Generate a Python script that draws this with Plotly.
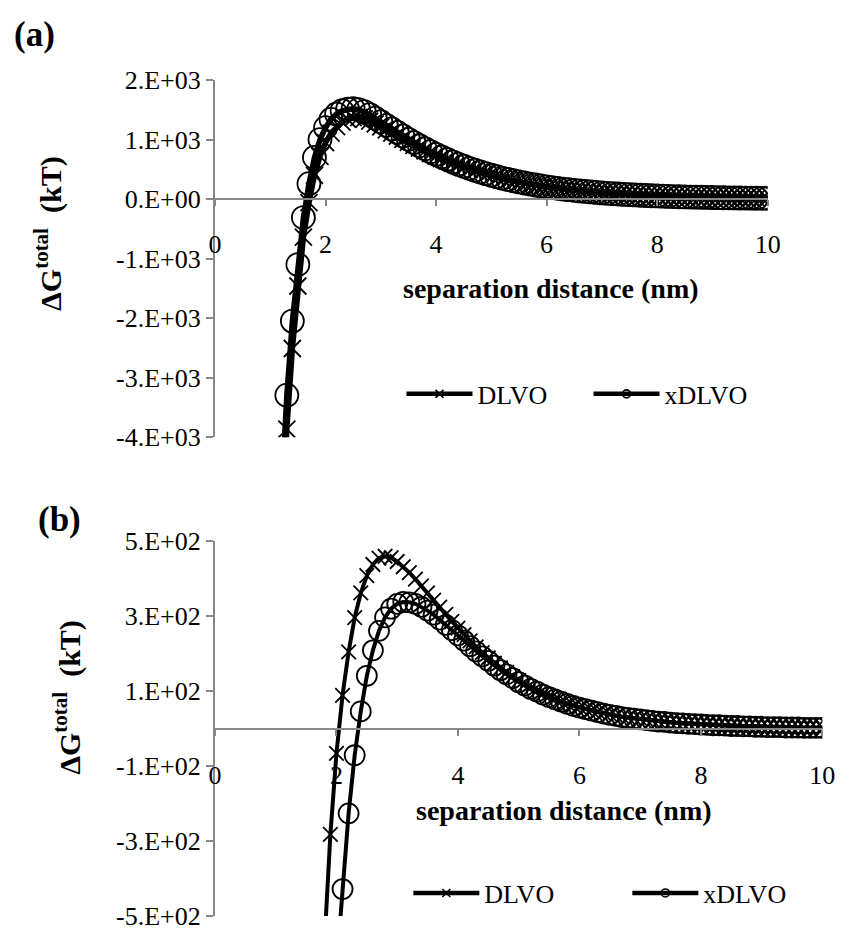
import plotly.graph_objects as go

# ---------------- data ----------------
x_a = [1.2, 1.3, 1.4, 1.5, 1.6, 1.7, 1.8, 1.9, 2.0, 2.1, 2.2, 2.3, 2.4, 2.5, 2.6, 2.7, 2.8, 2.9, 3.0,
       3.1, 3.2, 3.3, 3.4, 3.5, 3.6, 3.7, 3.8, 3.9, 4.0, 4.1, 4.2, 4.3, 4.4, 4.5, 4.6, 4.7, 4.8, 4.9, 5.0,
       5.1, 5.2, 5.3, 5.4, 5.5, 5.6, 5.7, 5.8, 5.9, 6.0, 6.1, 6.2, 6.3, 6.4, 6.5, 6.6, 6.7, 6.8, 6.9, 7.0,
       7.1, 7.2, 7.3, 7.4, 7.5, 7.6, 7.7, 7.8, 7.9, 8.0, 8.1, 8.2, 8.3, 8.4, 8.5, 8.6, 8.7, 8.8, 8.9, 9.0,
       9.1, 9.2, 9.3, 9.4, 9.5, 9.6, 9.7, 9.8, 9.9, 10.0]

dlvo_a = [-5800, -3865, -2510, -1460, -640, -60, 400, 720, 950, 1110, 1220, 1295, 1342, 1370, 1370, 1350,
          1312, 1263, 1213, 1162, 1110, 1057, 1005, 954, 904, 856, 809, 765, 722, 681, 641, 603, 567, 533,
          501, 470, 441, 414, 388, 364, 341, 320, 300, 281, 263, 246, 231, 216, 202, 189, 177, 165, 154,
          144, 135, 126, 118, 110, 103, 96, 90, 84, 78, 73, 68, 64, 60, 56, 52, 49, 45, 42, 39, 37, 34,
          32, 30, 28, 26, 24, 22, 21, 19, 18, 17, 15, 14, 13, 12]

xdlvo_a = [-5000, -3295, -2050, -1100, -310, 260, 700, 1000, 1200, 1340, 1430, 1485, 1512, 1520, 1505,
           1470, 1420, 1360, 1300, 1240, 1180, 1120, 1062, 1005, 950, 897, 846, 798, 752, 708, 666, 626,
           588, 552, 518, 486, 456, 428, 401, 376, 352, 330, 309, 289, 271, 253, 237, 222, 207, 194, 181,
           169, 158, 148, 138, 129, 121, 113, 105, 98, 92, 86, 80, 75, 70, 65, 61, 57, 53, 50, 46, 43, 40,
           38, 35, 33, 31, 29, 27, 25, 23, 22, 20, 19, 18, 16, 15, 14, 13]

x_b_dlvo = [1.8, 1.9, 2.0, 2.1, 2.2, 2.3, 2.4, 2.5, 2.6, 2.7, 2.8, 2.9, 3.0, 3.1, 3.2, 3.3, 3.4, 3.5, 3.6,
            3.7, 3.8, 3.9, 4.0, 4.1, 4.2, 4.3, 4.4, 4.5, 4.6, 4.7, 4.8, 4.9, 5.0, 5.1, 5.2, 5.3, 5.4, 5.5,
            5.6, 5.7, 5.8, 5.9, 6.0, 6.1, 6.2, 6.3, 6.4, 6.5, 6.6, 6.7, 6.8, 6.9, 7.0, 7.1, 7.2, 7.3, 7.4,
            7.5, 7.6, 7.7, 7.8, 7.9, 8.0, 8.1, 8.2, 8.3, 8.4, 8.5, 8.6, 8.7, 8.8, 8.9, 9.0, 9.1, 9.2, 9.3,
            9.4, 9.5, 9.6, 9.7, 9.8, 9.9, 10.0]

dlvo_b = [-580, -282, -66, 89, 205, 296, 362, 408, 438, 455, 460, 456, 446, 432, 416, 399, 381, 362, 343,
          324, 305, 286, 268, 251, 234, 218, 203, 189, 175, 162, 150, 139, 128, 118, 109, 101, 93, 86, 79,
          73, 67, 62, 57, 53, 49, 45, 41, 38, 35, 32, 30, 28, 26, 24, 22, 20, 19, 17, 16, 15, 14, 13, 12,
          11, 10, 10, 9, 8, 8, 7, 7, 6, 6, 5, 5, 5, 4, 4, 4, 3, 3, 3, 3]

x_b_xdlvo = [2.0, 2.1, 2.2, 2.3, 2.4, 2.5, 2.6, 2.7, 2.8, 2.9, 3.0, 3.1, 3.2, 3.3, 3.4, 3.5, 3.6, 3.7, 3.8,
             3.9, 4.0, 4.1, 4.2, 4.3, 4.4, 4.5, 4.6, 4.7, 4.8, 4.9, 5.0, 5.1, 5.2, 5.3, 5.4, 5.5, 5.6, 5.7,
             5.8, 5.9, 6.0, 6.1, 6.2, 6.3, 6.4, 6.5, 6.6, 6.7, 6.8, 6.9, 7.0, 7.1, 7.2, 7.3, 7.4, 7.5, 7.6,
             7.7, 7.8, 7.9, 8.0, 8.1, 8.2, 8.3, 8.4, 8.5, 8.6, 8.7, 8.8, 8.9, 9.0, 9.1, 9.2, 9.3, 9.4, 9.5,
             9.6, 9.7, 9.8, 9.9, 10.0]

xdlvo_b = [-640, -428, -226, -71, 46, 141, 209, 261, 297, 320, 333, 338, 337, 333, 325, 315, 304, 291, 277,
           263, 249, 235, 220, 206, 193, 181, 168, 156, 145, 135, 124, 115, 106, 99, 91, 84, 78, 72, 66,
           61, 56, 52, 48, 44, 40, 37, 34, 31, 29, 27, 25, 23, 21, 19, 18, 16, 15, 14, 13, 12, 11, 10, 9,
           9, 8, 7, 7, 6, 6, 5, 5, 4, 4, 4, 3, 3, 3, 2, 2, 2, 2]

series_names = ["DLVO", "xDLVO"]

x_ticks = [0, 2, 4, 6, 8, 10]
x_ticktext = ["0", "2", "4", "6", "8", "10"]
ya_ticks = [2000, 1000, 0, -1000, -2000, -3000, -4000]
ya_ticktext = ["2.E+03", "1.E+03", "0.E+00", "-1.E+03", "-2.E+03", "-3.E+03", "-4.E+03"]
yb_ticks = [500, 300, 100, -100, -300, -500]
yb_ticktext = ["5.E+02", "3.E+02", "1.E+02", "-1.E+02", "-3.E+02", "-5.E+02"]

x_title = "separation distance (nm)"
y_title = "\u0394G<sup>total</sup>  (kT)"

# ---------------- figure ----------------
W, H = 850, 942
FONT = "Liberation Serif"
GRAY = "#878787"

def py(p):  # pixel from top -> paper fraction
    return 1 - p / H

def px(p):
    return p / W

a_dom_y = [py(436.6), py(68.2)]
b_dom_y = [py(930.7), py(544.0)]
a_dom_x = [px(213), px(779)]
b_dom_x = [px(213), px(835)]
a_range = [-4000, 2000]
b_range = [-500, 500]
a_zero = a_dom_y[0] + (0 - a_range[0]) / (a_range[1] - a_range[0]) * (a_dom_y[1] - a_dom_y[0])
b_zero = b_dom_y[0] + (0 - b_range[0]) / (b_range[1] - b_range[0]) * (b_dom_y[1] - b_dom_y[0])

fig = go.Figure()

def add_series(x, y, name, xa, ya, symbol, msize, lw, legend):
    fig.add_trace(go.Scatter(
        x=x, y=y, name=name, mode="lines+markers", xaxis=xa, yaxis=ya,
        line=dict(color="black", width=lw),
        marker=dict(symbol=symbol, size=msize, color="black",
                    line=dict(color="black", width=1.8)),
        showlegend=False, legend=legend))

add_series(x_a, dlvo_a, series_names[0], "x", "y", "x-thin-open", 17, 5.5, "legend")
add_series(x_a, xdlvo_a, series_names[1], "x", "y", "circle-open", 23, 5.5, "legend")
add_series(x_b_dlvo, dlvo_b, series_names[0], "x2", "y2", "x-thin-open", 14.5, 4, "legend2")
add_series(x_b_xdlvo, xdlvo_b, series_names[1], "x2", "y2", "circle-open", 20, 4, "legend2")

# legend entries
for lg, xa, ya in [("legend", "x", "y"), ("legend2", "x2", "y2")]:
    for nm, sym in zip(series_names, ["x-thin-open", "circle-open"]):
        fig.add_trace(go.Scatter(
            x=[None], y=[None], name=nm, mode="lines+markers", xaxis=xa, yaxis=ya,
            line=dict(color="black", width=4.5),
            marker=dict(symbol=sym, size=8, color="black", line=dict(color="black", width=1.6)),
            showlegend=True, legend=lg))

axis_common = dict(showgrid=False, zeroline=False, showline=True, linecolor=GRAY, linewidth=2,
                   ticks="outside", tickcolor=GRAY, tickwidth=2,
                   tickfont=dict(family=FONT, size=26, color="black"))

fig.update_layout(
    width=W, height=H, margin=dict(l=0, r=0, t=0, b=0),
    paper_bgcolor="white", plot_bgcolor="white",
    xaxis=dict(domain=a_dom_x, range=[0, 10], anchor="free", position=a_zero,
               tickvals=x_ticks, ticktext=x_ticktext, ticklen=6, ticklabelstandoff=16, **axis_common),
    yaxis=dict(domain=a_dom_y, range=a_range, anchor="x", tickvals=ya_ticks, ticktext=ya_ticktext,
               ticklen=7, **axis_common),
    xaxis2=dict(domain=b_dom_x, range=[0, 10], anchor="free", position=b_zero,
                tickvals=x_ticks, ticktext=x_ticktext, ticklen=6, ticklabelstandoff=17, **axis_common),
    yaxis2=dict(domain=b_dom_y, range=b_range, anchor="x2", tickvals=yb_ticks, ticktext=yb_ticktext,
                ticklen=7, **axis_common),
    legend=dict(orientation="h", x=px(404), y=py(392), xanchor="left", yanchor="middle",
                font=dict(family=FONT, size=26, color="black"), itemwidth=66,
                bgcolor="rgba(0,0,0,0)", entrywidth=106),
    legend2=dict(orientation="h", x=px(411), y=py(907), xanchor="left", yanchor="middle",
                 font=dict(family=FONT, size=26, color="black"), itemwidth=66,
                 bgcolor="rgba(0,0,0,0)", entrywidth=138),
)

def note(text, x, y, size, angle=0):
    fig.add_annotation(text=text, x=px(x), y=py(y), xref="paper", yref="paper",
                       xanchor="center", yanchor="middle", showarrow=False, textangle=angle,
                       font=dict(family=FONT, size=size, color="black"))

note("<b>(a)</b>", 28, 21, 35)
note("<b>(b)</b>", 54, 522, 35)
note("<b>" + y_title + "</b>", 42, 227, 30, -90)
note("<b>" + y_title + "</b>", 62, 705, 30, -90)
note("<b>" + x_title + "</b>", 557, 283, 28)
note("<b>" + x_title + "</b>", 570, 822, 28)

fig.write_html("out.html")
